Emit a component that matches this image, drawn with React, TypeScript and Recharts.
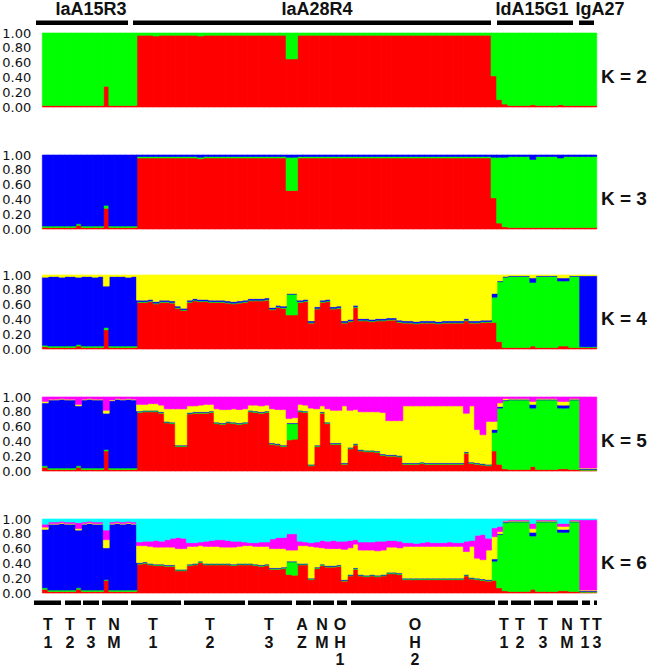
import React from 'react';
import { BarChart, Bar, XAxis, YAxis } from 'recharts';

// Per-individual ancestry proportions.
// Order of individuals: IaA15R3 (17) | IaA28R4 (64) | IdA15G1 (16) | IgA27 (3).
// The top cluster of every panel is whatever is left to reach 1.

// K = 2: red (green = rest)
const k2Red = [
  0.02, 0.02, 0.02, 0.02, 0.02, 0.02, 0.02, 0.02, 0.02, 0.02, 0.02, 0.28, 0.02, 0.02, 0.02, 0.02, 0.02,
  0.97, 0.97, 0.97, 0.96, 0.97, 0.97, 0.97, 0.97,
  0.97, 0.97, 0.97, 0.96, 0.97, 0.97, 0.97, 0.97,
  0.97, 0.97, 0.97, 0.97, 0.97, 0.97, 0.97, 0.97,
  0.97, 0.97, 0.97, 0.65, 0.65, 0.97, 0.97, 0.97,
  0.97, 0.97, 0.97, 0.97, 0.97, 0.97, 0.97, 0.97,
  0.97, 0.97, 0.97, 0.97, 0.97, 0.97, 0.97, 0.97,
  0.97, 0.97, 0.97, 0.97, 0.97, 0.97, 0.97, 0.97,
  0.97, 0.97, 0.97, 0.97, 0.97, 0.97, 0.97, 0.97,
  0.42, 0.10, 0.04, 0.02, 0.02, 0.02, 0.02, 0.03, 0.02, 0.02, 0.02, 0.02, 0.03, 0.02, 0.02, 0.02,
  0.02, 0.02, 0.02,
];

// K = 3: red, green (blue = rest)
const k3Red = [
  0.02, 0.02, 0.02, 0.02, 0.02, 0.02, 0.05, 0.02, 0.02, 0.02, 0.02, 0.28, 0.02, 0.02, 0.02, 0.02, 0.02,
  0.96, 0.96, 0.96, 0.96, 0.96, 0.96, 0.96, 0.96,
  0.96, 0.96, 0.96, 0.95, 0.96, 0.96, 0.96, 0.96,
  0.96, 0.96, 0.96, 0.96, 0.96, 0.96, 0.96, 0.96,
  0.96, 0.96, 0.96, 0.52, 0.52, 0.96, 0.96, 0.96,
  0.96, 0.96, 0.96, 0.96, 0.96, 0.96, 0.96, 0.96,
  0.96, 0.96, 0.96, 0.96, 0.96, 0.96, 0.96, 0.96,
  0.96, 0.96, 0.96, 0.96, 0.96, 0.96, 0.96, 0.96,
  0.96, 0.96, 0.96, 0.96, 0.96, 0.96, 0.96, 0.96,
  0.42, 0.08, 0.03, 0.02, 0.02, 0.02, 0.02, 0.02, 0.02, 0.02, 0.02, 0.02, 0.02, 0.02, 0.02, 0.02,
  0.02, 0.02, 0.02,
];
const k3Green = [
  0.02, 0.02, 0.02, 0.02, 0.02, 0.02, 0.02, 0.02, 0.02, 0.02, 0.02, 0.04, 0.02, 0.02, 0.02, 0.02, 0.02,
  0.02, 0.02, 0.02, 0.02, 0.02, 0.02, 0.02, 0.02,
  0.02, 0.02, 0.02, 0.02, 0.02, 0.02, 0.02, 0.02,
  0.02, 0.02, 0.02, 0.02, 0.02, 0.02, 0.02, 0.02,
  0.02, 0.02, 0.02, 0.45, 0.45, 0.02, 0.02, 0.02,
  0.02, 0.02, 0.02, 0.02, 0.02, 0.02, 0.02, 0.02,
  0.02, 0.02, 0.02, 0.02, 0.02, 0.02, 0.02, 0.02,
  0.02, 0.02, 0.02, 0.02, 0.02, 0.02, 0.02, 0.02,
  0.02, 0.02, 0.02, 0.02, 0.02, 0.02, 0.02, 0.02,
  0.55, 0.89, 0.94, 0.96, 0.96, 0.96, 0.96, 0.92, 0.96, 0.96, 0.96, 0.96, 0.94, 0.96, 0.96, 0.96,
  0.96, 0.96, 0.96,
];

// K = 4: red, green, blue (yellow = rest)
const k4Red = [
  0.03, 0.02, 0.02, 0.02, 0.02, 0.02, 0.04, 0.02, 0.02, 0.02, 0.02, 0.26, 0.02, 0.02, 0.02, 0.02, 0.02,
  0.63, 0.63, 0.64, 0.61, 0.63, 0.63, 0.62, 0.55,
  0.52, 0.63, 0.65, 0.64, 0.64, 0.63, 0.63, 0.63,
  0.62, 0.61, 0.62, 0.63, 0.65, 0.65, 0.65, 0.66,
  0.53, 0.56, 0.55, 0.46, 0.46, 0.63, 0.64, 0.35,
  0.54, 0.63, 0.64, 0.54, 0.55, 0.35, 0.37, 0.56,
  0.38, 0.38, 0.37, 0.38, 0.38, 0.39, 0.39, 0.36,
  0.35, 0.35, 0.34, 0.35, 0.35, 0.35, 0.34, 0.35,
  0.35, 0.35, 0.35, 0.38, 0.35, 0.35, 0.36, 0.36,
  0.36, 0.10, 0.02, 0.02, 0.02, 0.02, 0.02, 0.04, 0.02, 0.02, 0.02, 0.02, 0.04, 0.04, 0.02, 0.02,
  0.02, 0.02, 0.02,
];
const k4Green = [
  0.02, 0.02, 0.02, 0.02, 0.02, 0.02, 0.02, 0.02, 0.02, 0.02, 0.02, 0.03, 0.02, 0.02, 0.02, 0.02, 0.02,
  0.01, 0.01, 0.01, 0.01, 0.01, 0.01, 0.01, 0.01,
  0.01, 0.01, 0.01, 0.01, 0.01, 0.01, 0.01, 0.01,
  0.01, 0.01, 0.01, 0.01, 0.01, 0.01, 0.01, 0.01,
  0.01, 0.01, 0.01, 0.28, 0.28, 0.01, 0.01, 0.01,
  0.01, 0.01, 0.01, 0.01, 0.01, 0.01, 0.01, 0.01,
  0.01, 0.01, 0.01, 0.01, 0.01, 0.01, 0.01, 0.01,
  0.01, 0.01, 0.01, 0.01, 0.01, 0.01, 0.01, 0.01,
  0.01, 0.01, 0.01, 0.01, 0.01, 0.01, 0.01, 0.01,
  0.34, 0.81, 0.95, 0.96, 0.96, 0.96, 0.96, 0.86, 0.96, 0.96, 0.96, 0.96, 0.88, 0.88, 0.96, 0.96,
  0.01, 0.01, 0.01,
];
const k4Blue = [
  0.92, 0.94, 0.94, 0.93, 0.94, 0.94, 0.91, 0.94, 0.94, 0.93, 0.94, 0.56, 0.94, 0.94, 0.94, 0.93, 0.94,
  0.02, 0.02, 0.02, 0.02, 0.02, 0.02, 0.02, 0.02,
  0.02, 0.02, 0.02, 0.02, 0.02, 0.02, 0.02, 0.02,
  0.02, 0.02, 0.02, 0.02, 0.02, 0.02, 0.02, 0.02,
  0.02, 0.02, 0.02, 0.01, 0.01, 0.02, 0.02, 0.02,
  0.02, 0.02, 0.02, 0.02, 0.02, 0.02, 0.02, 0.02,
  0.02, 0.02, 0.02, 0.02, 0.02, 0.02, 0.02, 0.02,
  0.02, 0.02, 0.02, 0.02, 0.02, 0.02, 0.02, 0.02,
  0.02, 0.02, 0.02, 0.02, 0.02, 0.02, 0.02, 0.02,
  0.05, 0.01, 0.01, 0.01, 0.01, 0.01, 0.01, 0.06, 0.01, 0.01, 0.01, 0.01, 0.04, 0.04, 0.01, 0.01,
  0.96, 0.96, 0.96,
];

// K = 5: red, green, blue, yellow (magenta = rest)
const k5Red = [
  0.05, 0.02, 0.02, 0.02, 0.02, 0.02, 0.05, 0.02, 0.02, 0.02, 0.02, 0.27, 0.02, 0.02, 0.02, 0.02, 0.02,
  0.79, 0.80, 0.80, 0.80, 0.78, 0.65, 0.64, 0.33,
  0.33, 0.77, 0.78, 0.78, 0.78, 0.79, 0.64, 0.63,
  0.65, 0.64, 0.63, 0.64, 0.80, 0.79, 0.78, 0.79,
  0.36, 0.35, 0.33, 0.42, 0.43, 0.80, 0.79, 0.07,
  0.33, 0.78, 0.64, 0.36, 0.36, 0.09, 0.30, 0.35,
  0.27, 0.26, 0.26, 0.25, 0.21, 0.20, 0.20, 0.19,
  0.09, 0.09, 0.09, 0.10, 0.09, 0.09, 0.09, 0.09,
  0.09, 0.09, 0.09, 0.24, 0.10, 0.09, 0.08, 0.07,
  0.27, 0.09, 0.03, 0.02, 0.02, 0.02, 0.02, 0.06, 0.02, 0.02, 0.02, 0.02, 0.03, 0.03, 0.02, 0.02,
  0.01, 0.01, 0.01,
];
const k5Green = [
  0.02, 0.02, 0.02, 0.02, 0.02, 0.02, 0.02, 0.02, 0.02, 0.02, 0.02, 0.02, 0.02, 0.02, 0.02, 0.02, 0.02,
  0.01, 0.01, 0.01, 0.01, 0.01, 0.01, 0.01, 0.01,
  0.01, 0.01, 0.01, 0.01, 0.01, 0.01, 0.01, 0.01,
  0.01, 0.01, 0.01, 0.01, 0.01, 0.01, 0.01, 0.01,
  0.01, 0.01, 0.01, 0.22, 0.21, 0.01, 0.01, 0.01,
  0.01, 0.01, 0.01, 0.01, 0.01, 0.01, 0.01, 0.01,
  0.01, 0.01, 0.01, 0.01, 0.01, 0.01, 0.01, 0.01,
  0.01, 0.01, 0.01, 0.01, 0.01, 0.01, 0.01, 0.01,
  0.01, 0.01, 0.01, 0.01, 0.01, 0.01, 0.01, 0.01,
  0.25, 0.76, 0.92, 0.94, 0.94, 0.94, 0.94, 0.79, 0.94, 0.94, 0.94, 0.94, 0.82, 0.82, 0.94, 0.94,
  0.01, 0.01, 0.01,
];
const k5Blue = [
  0.85, 0.92, 0.92, 0.93, 0.92, 0.92, 0.81, 0.92, 0.93, 0.92, 0.92, 0.49, 0.91, 0.93, 0.92, 0.93, 0.92,
  0.01, 0.01, 0.01, 0.01, 0.01, 0.01, 0.01, 0.01,
  0.01, 0.01, 0.01, 0.01, 0.01, 0.01, 0.01, 0.01,
  0.01, 0.01, 0.01, 0.01, 0.01, 0.01, 0.01, 0.01,
  0.01, 0.01, 0.01, 0.01, 0.01, 0.01, 0.01, 0.01,
  0.01, 0.01, 0.01, 0.01, 0.01, 0.01, 0.01, 0.01,
  0.01, 0.01, 0.01, 0.01, 0.01, 0.01, 0.01, 0.01,
  0.01, 0.01, 0.01, 0.01, 0.01, 0.01, 0.01, 0.01,
  0.01, 0.01, 0.01, 0.01, 0.01, 0.01, 0.01, 0.01,
  0.04, 0.02, 0.01, 0.01, 0.01, 0.01, 0.01, 0.05, 0.01, 0.01, 0.01, 0.01, 0.04, 0.04, 0.01, 0.01,
  0.01, 0.01, 0.01,
];
const k5Yellow = [
  0.02, 0.01, 0.01, 0.01, 0.01, 0.01, 0.02, 0.01, 0.01, 0.01, 0.01, 0.04, 0.01, 0.01, 0.01, 0.01, 0.01,
  0.09, 0.08, 0.09, 0.09, 0.09, 0.17, 0.18, 0.49,
  0.49, 0.09, 0.08, 0.09, 0.10, 0.09, 0.18, 0.18,
  0.16, 0.18, 0.18, 0.18, 0.07, 0.08, 0.08, 0.08,
  0.46, 0.46, 0.48, 0.06, 0.07, 0.08, 0.08, 0.76,
  0.49, 0.08, 0.18, 0.44, 0.44, 0.77, 0.50, 0.46,
  0.51, 0.52, 0.52, 0.53, 0.56, 0.46, 0.46, 0.47,
  0.77, 0.77, 0.77, 0.76, 0.77, 0.77, 0.77, 0.77,
  0.77, 0.77, 0.77, 0.52, 0.76, 0.45, 0.39, 0.58,
  0.11, 0.05, 0.02, 0.01, 0.01, 0.01, 0.01, 0.04, 0.01, 0.01, 0.01, 0.01, 0.05, 0.05, 0.01, 0.01,
  0.01, 0.01, 0.01,
];

// K = 6: red, green, blue, yellow, magenta (cyan = rest)
const k6Red = [
  0.05, 0.02, 0.02, 0.02, 0.02, 0.02, 0.05, 0.02, 0.02, 0.02, 0.02, 0.17, 0.02, 0.02, 0.02, 0.02, 0.02,
  0.39, 0.40, 0.38, 0.37, 0.37, 0.36, 0.36, 0.30,
  0.30, 0.37, 0.38, 0.41, 0.38, 0.38, 0.38, 0.38,
  0.38, 0.37, 0.38, 0.38, 0.38, 0.37, 0.36, 0.37,
  0.32, 0.32, 0.33, 0.25, 0.24, 0.38, 0.38, 0.18,
  0.33, 0.37, 0.35, 0.35, 0.36, 0.16, 0.23, 0.32,
  0.23, 0.22, 0.23, 0.22, 0.23, 0.26, 0.26, 0.25,
  0.18, 0.18, 0.18, 0.18, 0.18, 0.18, 0.18, 0.18,
  0.18, 0.18, 0.18, 0.23, 0.19, 0.18, 0.17, 0.16,
  0.17, 0.07, 0.03, 0.02, 0.02, 0.02, 0.02, 0.05, 0.02, 0.02, 0.02, 0.02, 0.03, 0.03, 0.02, 0.02,
  0.01, 0.01, 0.01,
];
const k6Green = [
  0.02, 0.02, 0.02, 0.02, 0.02, 0.02, 0.02, 0.02, 0.02, 0.02, 0.02, 0.01, 0.02, 0.02, 0.02, 0.02, 0.02,
  0.01, 0.01, 0.01, 0.01, 0.01, 0.01, 0.01, 0.01,
  0.01, 0.01, 0.01, 0.01, 0.01, 0.01, 0.01, 0.01,
  0.01, 0.01, 0.01, 0.01, 0.01, 0.01, 0.01, 0.01,
  0.01, 0.01, 0.01, 0.17, 0.18, 0.01, 0.01, 0.01,
  0.01, 0.01, 0.01, 0.01, 0.01, 0.01, 0.01, 0.01,
  0.01, 0.01, 0.01, 0.01, 0.01, 0.01, 0.01, 0.01,
  0.01, 0.01, 0.01, 0.01, 0.01, 0.01, 0.01, 0.01,
  0.01, 0.01, 0.01, 0.01, 0.01, 0.01, 0.01, 0.01,
  0.26, 0.72, 0.92, 0.94, 0.94, 0.94, 0.94, 0.72, 0.94, 0.94, 0.94, 0.94, 0.79, 0.79, 0.94, 0.94,
  0.01, 0.01, 0.01,
];
const k6Blue = [
  0.79, 0.89, 0.89, 0.90, 0.89, 0.89, 0.78, 0.89, 0.90, 0.89, 0.89, 0.43, 0.89, 0.90, 0.89, 0.90, 0.89,
  0.01, 0.01, 0.01, 0.01, 0.01, 0.01, 0.01, 0.01,
  0.01, 0.01, 0.01, 0.01, 0.01, 0.01, 0.01, 0.01,
  0.01, 0.01, 0.01, 0.01, 0.01, 0.01, 0.01, 0.01,
  0.01, 0.01, 0.01, 0.01, 0.01, 0.01, 0.01, 0.01,
  0.01, 0.01, 0.01, 0.01, 0.01, 0.01, 0.01, 0.01,
  0.01, 0.01, 0.01, 0.01, 0.01, 0.01, 0.01, 0.01,
  0.01, 0.01, 0.01, 0.01, 0.01, 0.01, 0.01, 0.01,
  0.01, 0.01, 0.01, 0.01, 0.01, 0.01, 0.01, 0.01,
  0.03, 0.01, 0.01, 0.01, 0.01, 0.01, 0.01, 0.05, 0.01, 0.01, 0.01, 0.01, 0.04, 0.04, 0.01, 0.01,
  0.01, 0.01, 0.01,
];
const k6Yellow = [
  0.03, 0.01, 0.01, 0.01, 0.01, 0.01, 0.02, 0.01, 0.01, 0.01, 0.01, 0.11, 0.01, 0.01, 0.01, 0.01, 0.01,
  0.23, 0.22, 0.23, 0.23, 0.23, 0.24, 0.24, 0.28,
  0.28, 0.24, 0.23, 0.21, 0.23, 0.23, 0.23, 0.22,
  0.22, 0.23, 0.23, 0.24, 0.24, 0.24, 0.25, 0.24,
  0.26, 0.26, 0.25, 0.15, 0.15, 0.24, 0.24, 0.43,
  0.27, 0.22, 0.23, 0.23, 0.22, 0.41, 0.36, 0.32,
  0.33, 0.34, 0.33, 0.33, 0.33, 0.34, 0.34, 0.34,
  0.43, 0.43, 0.43, 0.43, 0.43, 0.43, 0.43, 0.43,
  0.43, 0.43, 0.43, 0.31, 0.42, 0.27, 0.26, 0.40,
  0.30, 0.03, 0.01, 0.01, 0.01, 0.01, 0.01, 0.05, 0.01, 0.01, 0.01, 0.01, 0.04, 0.04, 0.01, 0.01,
  0.01, 0.01, 0.01,
];
const k6Magenta = [
  0.04, 0.02, 0.02, 0.02, 0.02, 0.02, 0.08, 0.02, 0.02, 0.02, 0.02, 0.13, 0.02, 0.02, 0.02, 0.02, 0.02,
  0.05, 0.06, 0.07, 0.09, 0.08, 0.10, 0.12, 0.15,
  0.14, 0.05, 0.05, 0.05, 0.07, 0.08, 0.09, 0.10,
  0.09, 0.08, 0.07, 0.05, 0.04, 0.05, 0.06, 0.06,
  0.13, 0.15, 0.15, 0.22, 0.22, 0.06, 0.05, 0.05,
  0.07, 0.10, 0.10, 0.11, 0.10, 0.11, 0.10, 0.06,
  0.11, 0.11, 0.11, 0.13, 0.12, 0.09, 0.09, 0.09,
  0.05, 0.05, 0.04, 0.05, 0.06, 0.05, 0.05, 0.05,
  0.06, 0.05, 0.05, 0.14, 0.08, 0.31, 0.34, 0.16,
  0.12, 0.07, 0.01, 0.01, 0.01, 0.01, 0.01, 0.07, 0.01, 0.01, 0.01, 0.01, 0.04, 0.04, 0.01, 0.01,
  0.95, 0.95, 0.95,
];

const clusterKeys = ['c1', 'c2', 'c3', 'c4', 'c5', 'c6'];
const clusterColors = ['#ff0000', '#00ff00', '#0000ff', '#ffff00', '#ff00ff', '#00ffff'];
const yTicks = [0, 0.2, 0.4, 0.6, 0.8, 1];

const panels = [
  { k: 2, top: 33, series: [k2Red] },
  { k: 3, top: 155, series: [k3Red, k3Green] },
  { k: 4, top: 275, series: [k4Red, k4Green, k4Blue] },
  { k: 5, top: 397, series: [k5Red, k5Green, k5Blue, k5Yellow] },
  { k: 6, top: 519, series: [k6Red, k6Green, k6Blue, k6Yellow, k6Magenta] },
];

// annotation text
const popTitles = ['IaA15R3', 'IaA28R4', 'IdA15G1', 'IgA27'];
const subLabels = [
  ['T', '1'], ['T', '2'], ['T', '3'], ['N', 'M'],
  ['T', '1'], ['T', '2'], ['T', '3'], ['A', 'Z'], ['N', 'M'], ['O', 'H', '1'], ['O', 'H', '2'],
  ['T', '1'], ['T', '2'], ['T', '3'], ['N', 'M'],
  ['T', '1'], ['T', '3'],
];

// annotation layout (pixels)
const popTitleLayout = [
  { cx: 91, x1: 36, x2: 128 },
  { cx: 317, x1: 133, x2: 491 },
  { cx: 532, x1: 497, x2: 573 },
  { cx: 600, x1: 579, x2: 594 },
];
const subLabelX = [48, 70, 91, 114, 153, 210, 269, 302, 322, 340, 415, 504, 520, 543, 567, 585, 597];
const subDash = [
  [34, 61], [65, 81], [83, 99], [102, 128], [131, 181], [184, 245], [248, 292], [296, 311],
  [313, 334], [337, 347], [351, 495], [498, 508], [511, 531], [534, 553], [557, 578], [582, 590], [594, 597],
];
const subRowY = [630, 648, 665];

const PLOT_LEFT = 42.3;
const PLOT_RIGHT = 596.3;
const PLOT_H = 74;
const PAD = 8;

const boldFont = '"Liberation Sans", Arial, sans-serif';

function buildRows(series: number[][]) {
  return series[0].map((_, i) => {
    const row: Record<string, number> = { id: i };
    let sum = 0;
    series.forEach((s, j) => {
      row[clusterKeys[j]] = s[i];
      sum += s[i];
    });
    row[clusterKeys[series.length]] = Math.max(0, +(1 - sum).toFixed(3));
    return row;
  });
}

const StructurePanel = ({ k, top, series }: { k: number; top: number; series: number[][] }) => {
  const rows = buildRows(series);
  return (
    <div style={{ position: 'absolute', left: 0, top: top - PAD }}>
      <BarChart
        width={650}
        height={PLOT_H + PAD * 2}
        data={rows}
        margin={{ top: PAD, right: 650 - PLOT_RIGHT, bottom: PAD, left: 0 }}
        barCategoryGap={0}
        barGap={0}
      >
        <XAxis dataKey="id" hide />
        <YAxis
          type="number"
          domain={[0, 1]}
          ticks={yTicks}
          interval={0}
          width={PLOT_LEFT}
          axisLine={false}
          tickLine={false}
          tickSize={6}
          tickMargin={5}
          tickFormatter={(v: number) => v.toFixed(2)}
          tick={{ fontSize: 13, fill: '#111', fontFamily: '"DejaVu Sans", sans-serif' }}
        />
        {clusterKeys.slice(0, k).map((key, j) => (
          <Bar
            key={key}
            dataKey={key}
            stackId="q"
            fill={clusterColors[j]}
            stroke={clusterColors[j]}
            strokeWidth={0.6}
            isAnimationActive={false}
          />
        ))}
      </BarChart>
    </div>
  );
};

export default function App() {
  return (
    <div
      style={{
        position: 'absolute',
        left: 0,
        top: 0,
        width: 650,
        height: 667,
        background: '#fff',
        overflow: 'hidden',
      }}
    >
      {panels.map((p) => (
        <StructurePanel key={p.k} k={p.k} top={p.top} series={p.series} />
      ))}

      <svg
        width={650}
        height={667}
        style={{ position: 'absolute', left: 0, top: 0, pointerEvents: 'none' }}
      >
        {popTitles.map((t, i) => (
          <g key={t}>
            <text
              x={popTitleLayout[i].cx}
              y={15}
              textAnchor="middle"
              fontFamily={boldFont}
              fontWeight="bold"
              fontSize={18}
              fill="#111"
            >
              {t}
            </text>
            <rect
              x={popTitleLayout[i].x1}
              y={20.5}
              width={popTitleLayout[i].x2 - popTitleLayout[i].x1}
              height={4.5}
              fill="#000"
            />
          </g>
        ))}

        {panels.map((p) => (
          <text
            key={p.k}
            x={601}
            y={p.top + 50}
            fontFamily={boldFont}
            fontWeight="bold"
            fontSize={19}
            fill="#111"
          >
            {`K = ${p.k}`}
          </text>
        ))}

        {subDash.map(([a, b], i) => (
          <rect key={i} x={a} y={600.5} width={b - a} height={4.5} fill="#000" />
        ))}

        {subLabels.map((lines, i) =>
          lines.map((ch, r) => (
            <text
              key={`${i}-${r}`}
              x={subLabelX[i]}
              y={subRowY[r]}
              textAnchor="middle"
              fontFamily={boldFont}
              fontWeight="bold"
              fontSize={16}
              fill="#111"
            >
              {ch}
            </text>
          ))
        )}
      </svg>
    </div>
  );
}
